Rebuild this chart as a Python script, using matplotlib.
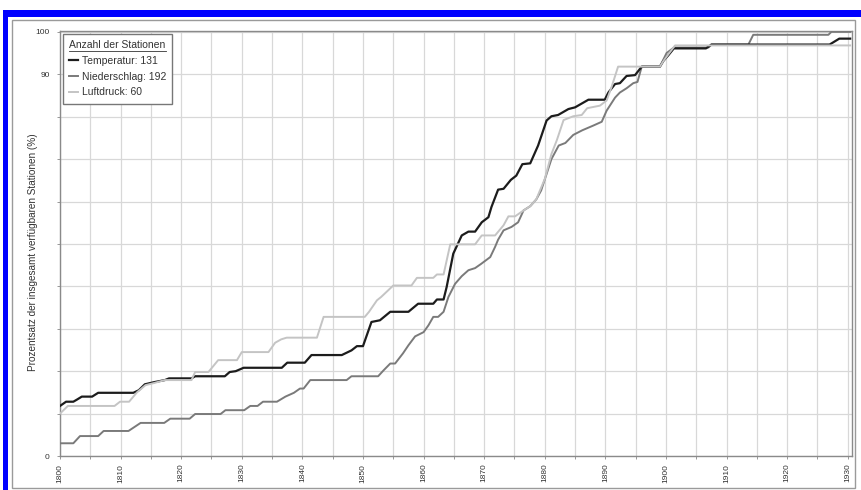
import matplotlib
matplotlib.use("Agg")
import matplotlib.pyplot as plt
from matplotlib.patches import Rectangle
from matplotlib.lines import Line2D

plt.rcParams["font.family"] = ["Liberation Sans", "DejaVu Sans"]

# Temperatur (131 Stationen)
temp_years = [1800.0, 1801.0, 1802.2, 1802.8, 1803.6, 1805.3, 1806.3, 1812.1, 1813.0, 1814.0,
              1815.5, 1817.3, 1818.0, 1821.7, 1822.3, 1827.2, 1828.0, 1829.0, 1830.3, 1836.6,
              1837.5, 1840.4, 1841.5, 1846.5, 1848.1, 1849.0, 1850.0, 1851.4, 1852.8, 1854.5,
              1857.5, 1859.1, 1861.6, 1862.2, 1863.3, 1863.8, 1864.9, 1866.3, 1867.4, 1868.5,
              1869.6, 1870.7, 1871.2, 1872.3, 1873.2, 1874.4, 1875.3, 1876.3, 1877.6, 1878.9,
              1880.3, 1881.1, 1882.2, 1883.9, 1885.0, 1887.2, 1889.9, 1890.5, 1891.6, 1892.4,
              1893.5, 1894.9, 1896.0, 1899.0, 1899.6, 1900.4, 1901.3, 1906.6, 1907.5, 1927.0,
              1928.6, 1930.4]
temp_pct = [11.8, 12.8, 12.8, 13.3, 14.0, 14.0, 14.9, 14.9, 15.5, 16.9,
            17.4, 17.9, 18.3, 18.3, 18.8, 18.8, 19.8, 20.0, 20.8, 20.8,
            22.0, 22.0, 23.8, 23.8, 24.9, 25.9, 25.9, 31.6, 32.0, 34.0,
            34.0, 35.9, 35.9, 36.9, 36.9, 39.8, 47.7, 52.0, 52.9, 52.9,
            55.1, 56.3, 58.7, 62.8, 63.0, 65.1, 66.1, 68.8, 69.0, 73.2,
            79.1, 80.1, 80.4, 81.8, 82.2, 84.0, 84.0, 85.7, 87.7, 87.9,
            89.6, 89.8, 91.8, 91.8, 93.2, 94.5, 96.1, 96.1, 97.0, 97.0,
            98.4, 98.4]

# Niederschlag (192 Stationen)
nied_years = [1800.0, 1802.2, 1803.3, 1806.3, 1807.2, 1811.3, 1813.3, 1817.2, 1818.2, 1821.4,
              1822.3, 1826.5, 1827.3, 1830.4, 1831.4, 1832.6, 1833.5, 1835.8, 1837.2, 1838.6,
              1839.6, 1840.2, 1841.3, 1847.3, 1848.1, 1852.5, 1853.4, 1854.5, 1855.3, 1856.6,
              1857.5, 1858.6, 1860.0, 1860.8, 1861.6, 1862.4, 1863.3, 1864.1, 1865.2, 1866.3,
              1867.4, 1868.5, 1869.5, 1871.0, 1871.8, 1872.3, 1873.2, 1874.5, 1875.6, 1876.5,
              1877.6, 1878.6, 1879.4, 1880.3, 1881.1, 1882.3, 1883.4, 1884.7, 1886.2, 1888.0,
              1889.4, 1890.2, 1891.6, 1892.4, 1893.5, 1894.6, 1895.3, 1896.0, 1899.0, 1900.1,
              1901.3, 1907.0, 1907.5, 1913.6, 1914.4, 1926.8, 1927.3, 1930.4]
nied_pct = [3.0, 3.0, 4.7, 4.7, 5.9, 5.9, 7.8, 7.8, 8.8, 8.8,
            9.9, 9.9, 10.8, 10.8, 11.8, 11.8, 12.8, 12.8, 14.0, 14.9,
            15.9, 15.9, 17.9, 17.9, 18.8, 18.8, 20.2, 21.8, 21.8, 24.2,
            26.1, 28.2, 29.2, 30.8, 32.8, 32.8, 34.0, 37.5, 40.6, 42.4,
            43.8, 44.3, 45.3, 46.9, 49.3, 51.0, 53.2, 54.0, 55.1, 57.9,
            58.9, 60.5, 62.6, 66.5, 70.0, 73.2, 73.8, 75.7, 76.8, 77.9,
            78.8, 81.4, 84.5, 85.7, 86.7, 87.9, 88.2, 91.8, 91.8, 95.0,
            96.3, 96.3, 97.0, 97.0, 99.3, 99.3, 100.0, 100.0]

# Luftdruck (60 Stationen)
luft_years = [1800.0, 1801.3, 1809.0, 1809.9, 1811.4, 1812.7, 1814.1, 1815.5, 1817.3, 1821.7,
              1822.3, 1824.5, 1826.1, 1829.2, 1830.0, 1834.4, 1835.5, 1836.5, 1837.4, 1842.4,
              1843.5, 1850.3, 1851.0, 1852.3, 1853.0, 1855.0, 1858.0, 1858.9, 1861.6, 1862.2,
              1863.3, 1864.4, 1868.5, 1869.6, 1871.8, 1873.2, 1874.0, 1875.1, 1876.5, 1877.6,
              1878.6, 1879.2, 1880.0, 1881.1, 1882.0, 1883.1, 1884.7, 1886.1, 1887.0, 1889.1,
              1890.2, 1891.0, 1892.1, 1899.0, 1899.6, 1901.5, 1930.4]
luft_pct = [10.0, 11.8, 11.8, 12.8, 12.8, 15.0, 16.7, 17.2, 17.9, 17.9,
            19.8, 19.8, 22.6, 22.6, 24.5, 24.5, 26.7, 27.5, 27.9, 27.9,
            32.8, 32.8, 34.0, 36.7, 37.5, 40.2, 40.2, 42.0, 42.0, 42.8,
            42.8, 49.9, 49.9, 52.0, 52.0, 54.4, 56.5, 56.5, 57.9, 58.9,
            60.5, 62.6, 65.3, 71.2, 74.5, 79.2, 80.1, 80.4, 82.0, 82.6,
            83.8, 86.9, 91.8, 91.8, 93.2, 96.8, 96.8]

x_ticks = list(range(1800, 1931, 10))
x_minor = list(range(1805, 1930, 10))
y_ticks = list(range(0, 101, 10))
y_labels = ["0", "", "", "", "", "", "", "", "", "90", "100"]

fig = plt.figure(figsize=(8.62, 4.90), dpi=100)
ax = fig.add_axes([60 / 862, 34 / 490, 792 / 862, 425 / 490])

ax.plot(nied_years, nied_pct, color="#7a7a7a", lw=1.4, zorder=3)
ax.plot(temp_years, temp_pct, color="#1c1c1c", lw=1.6, zorder=4)
ax.plot(luft_years, luft_pct, color="#c4c4c4", lw=1.4, zorder=5)

ax.set_xlim(1800, 1930.7)
ax.set_ylim(0, 100.2)
ax.set_xticks(x_ticks)
ax.set_xticks(x_minor, minor=True)
ax.set_xticklabels([str(t) for t in x_ticks], rotation=90)
ax.set_yticks(y_ticks)
ax.set_yticklabels(y_labels)
ax.tick_params(which="both", length=2.5, width=0.6, color="#888888",
               labelsize=6, labelcolor="#333333", pad=3)
ax.tick_params(axis="y", pad=5)

ax.grid(which="both", axis="x", color="#d8d8d8", lw=0.9)
ax.grid(which="major", axis="y", color="#d8d8d8", lw=0.9)
ax.set_axisbelow(True)
for sp in ax.spines.values():
    sp.set_color("#8a8a8a")
    sp.set_linewidth(1.0)

ax.set_ylabel("Prozentsatz der insgesamt verfügbaren Stationen (%)",
              fontsize=7.2, color="#333333")
ax.yaxis.set_label_coords(-22 / 792, 0.48)

handles = [Line2D([], [], color="#1c1c1c", lw=1.6),
           Line2D([], [], color="#7a7a7a", lw=1.4),
           Line2D([], [], color="#c4c4c4", lw=1.4)]
labels = ["Temperatur: 131", "Niederschlag: 192", "Luftdruck: 60"]
leg = ax.legend(handles, labels, title="Anzahl der Stationen", loc="upper left",
                bbox_to_anchor=(3 / 792, 1 - 3 / 425), borderaxespad=0,
                fontsize=7.5, title_fontsize=7.5, alignment="left",
                fancybox=False, framealpha=1, edgecolor="#777777",
                handlelength=0.8, handletextpad=0.4, labelspacing=0.55,
                borderpad=0.6)
leg.get_frame().set_linewidth(1.0)
for t in leg.get_texts():
    t.set_color("#333333")
leg.get_title().set_color("#333333")

# outer frame and blue border
fig.add_artist(Rectangle((12.5 / 862, 2 / 490), 842.5 / 862, 468 / 490,
                         transform=fig.transFigure, fill=False,
                         edgecolor="#9a9a9a", lw=1.0))
fig.add_artist(Rectangle((3 / 862, 0), 5 / 862, 480 / 490,
                         transform=fig.transFigure, color="#0000ff", lw=0))
fig.add_artist(Rectangle((3 / 862, 473 / 490), 859 / 862, 7 / 490,
                         transform=fig.transFigure, color="#0000ff", lw=0))

# underline the legend title
fig.canvas.draw()
bb = leg.get_title().get_window_extent()
fig.add_artist(Line2D([bb.x0, bb.x1], [bb.y0 - 0.5, bb.y0 - 0.5], transform=None,
                      color="#333333", lw=0.6))

fig.savefig("out.png", dpi=100)
